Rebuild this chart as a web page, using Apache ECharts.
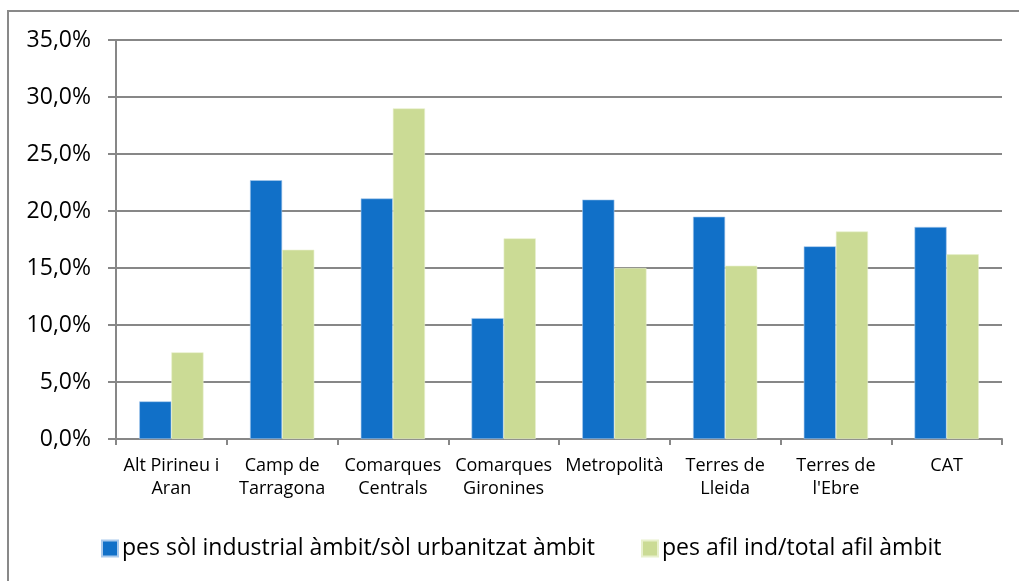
<!DOCTYPE html>
<html>
<head>
<meta charset="utf-8">
<script src="https://cdn.jsdelivr.net/npm/echarts@6/dist/echarts.min.js"></script>
<style>
  html, body { margin: 0; padding: 0; background: #ffffff; }
  #chart { width: 1019px; height: 581px; }
</style>
</head>
<body>
<div id="chart"></div>
<script>
// Àmbits territorials
const categories = [
  'Alt Pirineu i\nAran',
  'Camp de\nTarragona',
  'Comarques\nCentrals',
  'Comarques\nGironines',
  'Metropolità',
  'Terres de\nLleida',
  "Terres de\nl'Ebre",
  'CAT'
];

// Pes del sòl industrial sobre el sòl urbanitzat (%)
const pesSolIndustrial = [3.3, 22.7, 21.1, 10.6, 21.0, 19.5, 16.9, 18.6];
// Pes dels afiliats industrials sobre el total d'afiliats (%)
const pesAfilInd = [7.6, 16.6, 29.0, 17.6, 15.0, 15.2, 18.2, 16.2];

const seriesNames = [
  'pes sòl industrial àmbit/sòl urbanitzat àmbit',
  'pes afil ind/total afil àmbit'
];

const yTicks = { min: 0, max: 35, interval: 5 };

const FONT = '"Open Sans", "Liberation Sans", sans-serif';
const GRID_GRAY = '#878787';

const chart = echarts.init(document.getElementById('chart'), null, { renderer: 'canvas' });

chart.setOption({
  animation: false,
  backgroundColor: '#ffffff',
  textStyle: { fontFamily: FONT, color: '#000000' },
  graphic: [{
    type: 'rect',
    shape: { x: 8, y: 11, width: 1100, height: 700 },
    style: { fill: 'none', stroke: '#898989', lineWidth: 2 },
    silent: true,
    z: -1
  }],
  grid: { left: 116, top: 40, right: 17, bottom: 142, containLabel: false },
  legend: [
    {
      data: [seriesNames[0]],
      left: 96, top: 532,
      itemWidth: 16, itemHeight: 16,
      icon: 'rect',
      textStyle: { fontFamily: FONT, fontSize: 23, color: '#000000', padding: [0, 0, 0, -1] }
    },
    {
      data: [seriesNames[1]],
      left: 636, top: 532,
      itemWidth: 16, itemHeight: 16,
      icon: 'rect',
      textStyle: { fontFamily: FONT, fontSize: 23, color: '#000000', padding: [0, 0, 0, -1] }
    }
  ],
  xAxis: {
    type: 'category',
    data: categories,
    boundaryGap: true,
    axisLine: { show: true, lineStyle: { color: GRID_GRAY, width: 2 } },
    axisTick: { show: true, length: 6, alignWithLabel: false, lineStyle: { color: GRID_GRAY, width: 2 } },
    axisLabel: {
      interval: 0,
      margin: 15,
      fontFamily: FONT,
      fontSize: 18,
      lineHeight: 23,
      color: '#000000'
    }
  },
  yAxis: {
    type: 'value',
    min: yTicks.min,
    max: yTicks.max,
    interval: yTicks.interval,
    axisLine: { show: true, lineStyle: { color: GRID_GRAY, width: 2 } },
    axisTick: { show: true, length: 8, lineStyle: { color: GRID_GRAY, width: 2 } },
    splitLine: { show: true, lineStyle: { color: GRID_GRAY, width: 2 } },
    axisLabel: {
      margin: 25,
      fontFamily: FONT,
      fontSize: 23,
      color: '#000000',
      formatter: v => v.toFixed(1).replace('.', ',') + '%'
    }
  },
  series: [
    {
      name: seriesNames[0],
      type: 'bar',
      data: pesSolIndustrial,
      barGap: '0%',
      barCategoryGap: '42%',
      itemStyle: { color: '#1170C8', borderColor: '#A9C9EC', borderWidth: 0.6 }
    },
    {
      name: seriesNames[1],
      type: 'bar',
      data: pesAfilInd,
      barGap: '0%',
      barCategoryGap: '42%',
      itemStyle: { color: '#CBDB95', borderColor: '#E8F0CC', borderWidth: 0.6 }
    }
  ]
});
</script>
</body>
</html>
